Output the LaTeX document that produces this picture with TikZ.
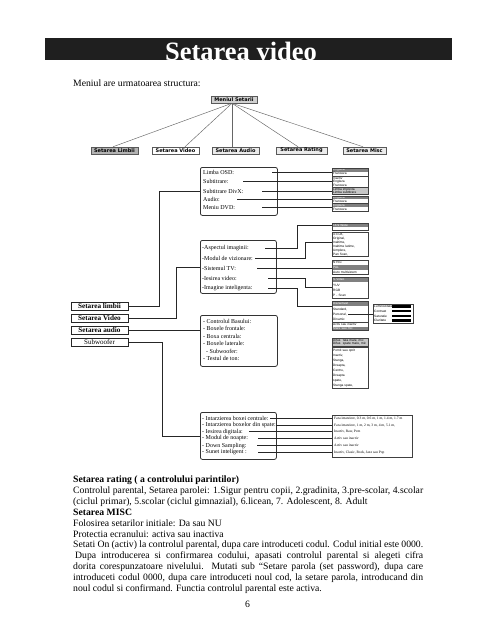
\documentclass[tikz,border=0pt]{standalone}
\usepackage{fontspec}
\setmainfont{Liberation Serif}
\newfontfamily\tinysans{Liberation Sans}
\newfontfamily\menusans{DejaVu Sans}
\begin{document}
\begin{tikzpicture}[x=1pt,y=-1pt,
  every node/.style={inner sep=0pt},
  mtree/.style={draw=black!65, line width=0.5pt, minimum height=7pt, font=\menusans\bfseries\fontsize{5}{6}\selectfont},
  treeline/.style={black!60, line width=0.45pt},
  leftbox/.style={draw=black!85, line width=0.9pt, fill=white, minimum width=57pt, minimum height=8pt, font=\bfseries\fontsize{7.2}{8}\selectfont},
  conn/.style={black!85, line width=0.8pt},
  panel/.style={draw=black!80, line width=0.8pt, rounded corners=2pt, fill=white, anchor=north west},
  item/.style={anchor=west, font=\fontsize{6}{7}\selectfont},
  rrow/.style={anchor=north west, text width=34pt, inner xsep=1pt, align=left, font=\tinysans\fontsize{3.2}{3.6}\selectfont},
  rhd/.style={fill=black!50, text=white},
  rlt/.style={fill=black!22},
  rwt/.style={fill=white},
  rbox/.style={draw=black!75, line width=0.7pt},
  link/.style={black!85, line width=0.7pt},
  txt/.style={anchor=base west, font=\fontsize{9.7}{11}\selectfont},
  txtb/.style={anchor=base west, font=\bfseries\fontsize{9.7}{11}\selectfont},
  ftxt/.style={anchor=west, font=\fontsize{3.6}{4}\selectfont},
]
\useasboundingbox (0,0) rectangle (495,640);
\fill[white] (0,0) rectangle (495,640);

% title
\fill[black!88] (45,38) rectangle (452,60);
\node[anchor=base, text=white, font=\bfseries\fontsize{26.5}{30}\selectfont] (title) at (241,60) {Setarea video};
\node[txt] (intro) at (73,86.5) {Meniul are urmatoarea structura:};

% menu tree
\node[mtree, fill=black!18, minimum width=46pt] (root) at (234,99.5) {Meniul Setarii};
\node[mtree, fill=black!30, minimum width=47pt] (cl) at (114.5,150.5) {Setarea Limbii};
\node[mtree, fill=white, minimum width=47pt] (cv) at (175.5,150.5) {Setarea Video};
\node[mtree, fill=black!8, minimum width=47pt] (ca) at (235.5,150.5) {Setarea Audio};
\node[mtree, fill=black!8, minimum width=51pt] (cr) at (301.5,150.5) {Setarea Rating};
\node[mtree, fill=black!8, minimum width=43pt] (cm) at (364.5,150.5) {Setarea Misc};
\draw[treeline] ([xshift=-2pt]root.south) -- ([xshift=-1.5pt]cl.north);
\draw[treeline] ([xshift=-2pt]root.south) -- ([xshift=9.5pt]cv.north);
\draw[treeline] ([xshift=-2pt]root.south) -- ([xshift=-3.5pt]ca.north);
\draw[treeline] ([xshift=-2pt]root.south) -- ([xshift=-3.5pt]cr.north);
\draw[treeline] ([xshift=-2pt]root.south) -- ([xshift=-1.5pt]cm.north);

% left boxes
\node[leftbox] (sl) at (99.5,306) {Setarea limbii};
\node[leftbox] (sv) at (99.5,318) {Setarea Video};
\node[leftbox] (sa) at (99.5,330) {Setarea audio};
\node[leftbox, font=\fontsize{7}{8}\selectfont] (ss) at (99.5,342) {Subwoofer};

% panels
\node[panel, minimum width=77pt, minimum height=48pt] (osd) at (200,167) {};
\node[panel, minimum width=76pt, minimum height=53pt] (vid) at (200,240) {};
\node[panel, minimum width=77pt, minimum height=51pt] (aud) at (200,315) {};
\node[panel, minimum width=76pt, minimum height=47pt] (sub) at (200,412) {};

\draw[conn] (sl.east) -| ([xshift=-41pt]osd.west) -- (osd.west);
\draw[conn] (sv.east) -| ([xshift=-24pt]vid.west) -- (vid.west);
\draw[conn] (sa.east) -- (sa.east -| aud.west);
\draw[conn] (ss.east) -| ([xshift=-38pt]sub.west) -- (sub.west);

% OSD panel items
\node[item] (o1) at (203,172) {Limba OSD:};
\node[item] (o2) at (203,181.5) {Subtitrare:};
\node[item] (o3) at (203,191) {Subtitrare DivX:};
\node[item] (o4) at (203,199.5) {Audio:};
\node[item] (o5) at (203,208) {Meniu DVD:};

% video panel items
\node[item] (v1) at (202,248) {-Aspectul imaginii:};
\node[item] (v2) at (202,258) {-Modul de vizionare:};
\node[item] (v3) at (202,268) {-Sistemul TV:};
\node[item] (v4) at (202,278) {-Iesirea video:};
\node[item] (v5) at (202,288) {-Imagine inteligenta:};

% audio panel items
\node[item] (a1) at (203,321) {- Controlul Basului:};
\node[item] (a2) at (203,328.5) {- Boxele frontale:};
\node[item] (a3) at (203,336) {- Boxa centrala:};
\node[item] (a4) at (203,343.5) {- Boxele laterale:};
\node[item] (a5) at (206,351) {- Subwoofer:};
\node[item] (a6) at (203,358.5) {- Testul de ton:};

% subwoofer panel items
\node[item] (w1) at (202,418.5) {- Intarzierea boxei centrale:};
\node[item] (w2) at (202,425.3) {- Intarzierea boxelor din spate:};
\node[item] (w3) at (202,431.8) {- Iesirea digitala:};
\node[item] (w4) at (202,438.4) {- Modul de noapte:};
\node[item] (w5) at (202,445.8) {- Down Sampling:};
\node[item] (w6) at (202,452.5) {- Sunet inteligent :};

% right column boxes (language)
\foreach \s/\t [count=\i] in {rhd/Engleza, rwt/Franceza}
  \node[rrow,\s,minimum height=3.75pt] (b1r\i) at (332,{168+(\i-1)*3.75}) {\t};
\draw[rbox] (b1r1.north west) rectangle (b1r2.south east);
\foreach \s/\t [count=\i] in {rwt/Inactiv, rwt/Engleza, rwt/Franceza}
  \node[rrow,\s,minimum height=3.83pt] (b2r\i) at (332,{176+(\i-1)*3.83}) {\t};
\draw[rbox] (b2r1.north west) rectangle (b2r3.south east);
\foreach \s/\t [count=\i] in {rlt/{Limba implicita}, rlt/{Limba subtitrare}}
  \node[rrow,\s,minimum height=3.25pt] (b3r\i) at (332,{187.5+(\i-1)*3.25}) {\t};
\draw[rbox] (b3r1.north west) rectangle (b3r2.south east);
\foreach \s/\t [count=\i] in {rhd/Engleza, rwt/Franceza}
  \node[rrow,\s,minimum height=3.25pt] (b4r\i) at (332,{196+(\i-1)*3.25}) {\t};
\draw[rbox] (b4r1.north west) rectangle (b4r2.south east);
\foreach \s/\t [count=\i] in {rhd/Engleza, rwt/Franceza}
  \node[rrow,\s,minimum height=3.7pt] (b5r\i) at (332,{203.3+(\i-1)*3.7}) {\t};
\draw[rbox] (b5r1.north west) rectangle (b5r2.south east);

% right column boxes (video)
\foreach \s/\t [count=\i] in {rhd/{16:9 Wide}, rwt/{}}
  \node[rrow,\s,minimum height=3.5pt] (b6r\i) at (332,{223+(\i-1)*3.5}) {\t};
\draw[rbox] (b6r1.north west) rectangle (b6r2.south east);
\foreach \s/\t [count=\i] in {rwt/{4:3 LB,}, rwt/{Original,}, rwt/{Inaltime,}, rwt/{Inaltime latime,}, rwt/{Umplere,}, rwt/{Pan Scan,}}
  \node[rrow,\s,minimum height=4pt] (b7r\i) at (332,{232+(\i-1)*4}) {\t};
\draw[rbox] (b7r1.north west) rectangle (b7r6.south east);
\foreach \s/\t [count=\i] in {rwt/NTSC, rhd/PAL, rwt/{Auto multisistem}}
  \node[rrow,\s,minimum height=4.67pt] (b8r\i) at (332,{260+(\i-1)*4.67}) {\t};
\draw[rbox] (b8r1.north west) rectangle (b8r3.south east);
\foreach \s/\t [count=\i] in {rhd/{S-Video}, rwt/YUV, rwt/RGB, rwt/{P - Scan}}
  \node[rrow,\s,minimum height=5.25pt] (b9r\i) at (332,{277+(\i-1)*5.25}) {\t};
\draw[rbox] (b9r1.north west) rectangle (b9r4.south east);
\foreach \s/\t [count=\i] in {rhd/Dezactivat, rwt/{Standard,}, rwt/{Personal,}, rwt/{Dinamic}}
  \node[rrow,\s,minimum height=5.25pt] (b10r\i) at (332,{301+(\i-1)*5.25}) {\t};
\draw[rbox] (b10r1.north west) rectangle (b10r4.south east);
\foreach \t [count=\i] in {Luminozitate, Contrast, Saturatie, Claritate}{
  \node[rrow,rwt,minimum height=4.75pt,text width=38pt] (s\i) at (373,{304+(\i-1)*4.75}) {\t};
  \fill[black] (392,{304+(\i-1)*4.75+1.1}) rectangle (411,{304+\i*4.75-1.1});
}
\draw[rbox] (s1.north west) rectangle (s4.south east);

% right column boxes (audio)
\foreach \s/\t [count=\i] in {rwt/{Activ sau inactiv}, rhd/{Mare sau mic}}
  \node[rrow,\s,minimum height=3.8pt] (b11r\i) at (332,{322.5+(\i-1)*3.8}) {\t};
\draw[rbox] (b11r1.north west) rectangle (b11r2.south east);
\foreach \s/\t [count=\i] in {rlt/{Difuz. fata mare, mic}, rlt/{Difuz. spate mare, mic}}
  \node[rrow,\s,minimum height=3.8pt] (b12r\i) at (332,{338+(\i-1)*3.8}) {\t};
\draw[rbox] (b12r1.north west) rectangle (b12r2.south east);
\foreach \s/\t [count=\i] in {rwt/{Pornit sau oprit}, rwt/{Inactiv,}, rwt/{Stanga,}, rwt/{Dreapta,}, rwt/{Centru,}, rwt/{Dreapta}, rwt/{spate,}, rwt/{Stanga spate,}}
  \node[rrow,\s,minimum height=5.06pt] (b14r\i) at (332,{347.5+(\i-1)*5.06}) {\t};
\draw[rbox] (b14r1.north west) rectangle (b14r8.south east);

% delay box
\node[rbox, anchor=north west, minimum width=80pt, minimum height=42pt] (fara) at (332,415) {};
\node[ftxt] (f1) at (334,418.5) {Fara intarziere, 0.3 m, 0.6 m, 1 m, 1.4 m, 1.7 m};
\node[ftxt] (f2) at (334,425.3) {Fara intarziere, 1 m, 2 m, 3 m, 4 m, 5.1 m,};
\node[ftxt] (f3) at (334,431.8) {Inactiv, Raw, Pcm};
\node[ftxt] (f4) at (334,438.4) {Activ sau inactiv};
\node[ftxt] (f5) at (334,445.8) {Activ sau inactiv};
\node[ftxt] (f6) at (334,452.5) {Inactiv, Clasic, Rock, Jazz sau Pop};

% links OSD
\coordinate (o1s) at (272,172);
\coordinate (o2s) at (243,181.5);
\coordinate (o3s) at (262,191);
\coordinate (o4s) at (237,199.5);
\coordinate (o5s) at (262,207.5);
\draw[link] (o1s) -- (o1s -| b1r1.west);
\draw[link] (o2s) -- (o2s -| b2r2.west);
\draw[link] (o3s) -- (o3s -| b3r1.west);
\draw[link] (o4s) -- (o4s -| b4r1.west);
\draw[link] (o5s) -- (o5s -| b5r1.west);

% links video
\coordinate (v1s) at (265,248);
\coordinate (v2s) at (255,258);
\coordinate (v3s) at (257,268);
\coordinate (v4s) at (268,278);
\coordinate (v5s) at (268,288);
\coordinate (v4e) at (332,287);
\coordinate (v5e) at (332,306);
\draw[link] (v1s) -- ++(32,0) |- (b6r1.west);
\draw[link] (v2s) -- ++(50,0) |- (b7r3.west);
\draw[link] (v3s) -- (v3s -| b8r2.west);
\draw[link] (v4s) -- ++(37,0) |- (v4e);
\draw[link] (v5s) -- ++(29,0) |- (v5e);
\coordinate (pers) at (348,314);
\draw[link] (pers) -- (pers -| s3.west);

% links subwoofer
\coordinate (w1s) at (270,418.5);
\coordinate (w2s) at (276,425.3);
\coordinate (w3s) at (249,431.8);
\coordinate (w4s) at (258,438.4);
\coordinate (w5s) at (257,445.8);
\coordinate (w6s) at (258,452.5);
\foreach \k in {1,...,6}
  \draw[link] (w\k s) -- (w\k s -| fara.west);

% bottom text
\node[txtb] (h1) at (73,482.5) {Setarea rating ( a controlului parintilor)};
\node[txt] (p1) at (73,493.4) {\hbox to 350pt{Controlul parental, Setarea parolei: 1.Sigur pentru copii, 2.gradinita, 3.pre-scolar, 4.scolar}};
\node[txt] (p2) at (73,504.3) {(ciclul primar), 5.scolar (ciclul gimnazial), 6.licean, 7. Adolescent, 8. Adult};
\node[txtb] (h2) at (73,515.2) {Setarea MISC};
\node[txt] (p3) at (73,526.1) {Folosirea setarilor initiale: Da sau NU};
\node[txt] (p4) at (73,537) {Protectia ecranului: activa sau inactiva};
\node[txt] (p5) at (73,547.9) {\hbox to 350pt{Setati On (activ) la controlul parental, dupa care introduceti codul. Codul initial este 0000.}};
\node[txt] (p6) at (73,558.8) {\hbox to 350pt{\hskip2pt Dupa introducerea si confirmarea codului, apasati controlul parental si alegeti cifra}};
\node[txt] (p7) at (73,569.7) {\hbox to 350pt{dorita corespunzatoare nivelului. Mutati sub “Setare parola (set password), dupa care}};
\node[txt] (p8) at (73,580.6) {\hbox to 350pt{introduceti codul 0000, dupa care introduceti noul cod, la setare parola, introducand din}};
\node[txt] (p9) at (73,591.5) {noul codul si confirmand. Functia controlul parental este activa.};
\node[anchor=base, font=\fontsize{9.7}{11}\selectfont] (pg) at (247.5,607) {6};
\end{tikzpicture}
\end{document}
